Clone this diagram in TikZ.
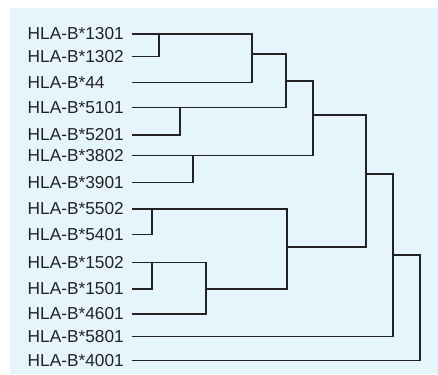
\documentclass[tikz,border=0pt]{standalone}
\usepackage{fontspec}
\setmainfont{Liberation Sans}
\definecolor{panel}{HTML}{E6F4FC}
\definecolor{ink}{HTML}{222222}
\begin{document}
\begin{tikzpicture}[x=1pt,y=-1pt,font=\fontsize{17.3}{19}\selectfont,line join=miter,line cap=rect]
	\tikzset{every node/.style={inner sep=0pt,text=ink,anchor=west},
		link/.style={draw=ink,line width=1.3pt}}
	\useasboundingbox (0,0) rectangle (438,374);
	\fill[panel] (10,8) rectangle (438,374);
	\foreach \name/\y [count=\i] in {1301/34,1302/56.7,44/82.3,5101/107.7,5201/135,3802/155.7,3901/182.3,5502/209,5401/234.3,1502/262.3,1501/289,4601/314,5801/336.7,4001/360.7}
	{
		\node (n\i) at (27.5,\y) {HLA-B*\name};
		\coordinate (s\i) at (133,\y);
	}
	\coordinate (j1) at (159,34);
	\coordinate (j2) at (252,54);
	\coordinate (j3) at (180,107.7);
	\coordinate (j4) at (286,81);
	\coordinate (j5) at (193,155.7);
	\coordinate (j6) at (313,115);
	\coordinate (j7) at (152,209);
	\coordinate (j8) at (152,262.3);
	\coordinate (j9) at (206,289);
	\coordinate (j10) at (287,247);
	\coordinate (j11) at (366,174);
	\coordinate (j12) at (393,255);
	\coordinate (j13) at (420,300);
	\foreach \a/\c/\b in {s1/j1/s2,j1/j2/s3,s4/j3/s5,j2/j4/j3,s6/j5/s7,j4/j6/j5,s8/j7/s9,s10/j8/s11,j8/j9/s12,j7/j10/j9,j6/j11/j10,j11/j12/s13,j12/j13/s14}
	\draw[link] (\a) -| (\c) |- (\b);
\end{tikzpicture}
\end{document}
